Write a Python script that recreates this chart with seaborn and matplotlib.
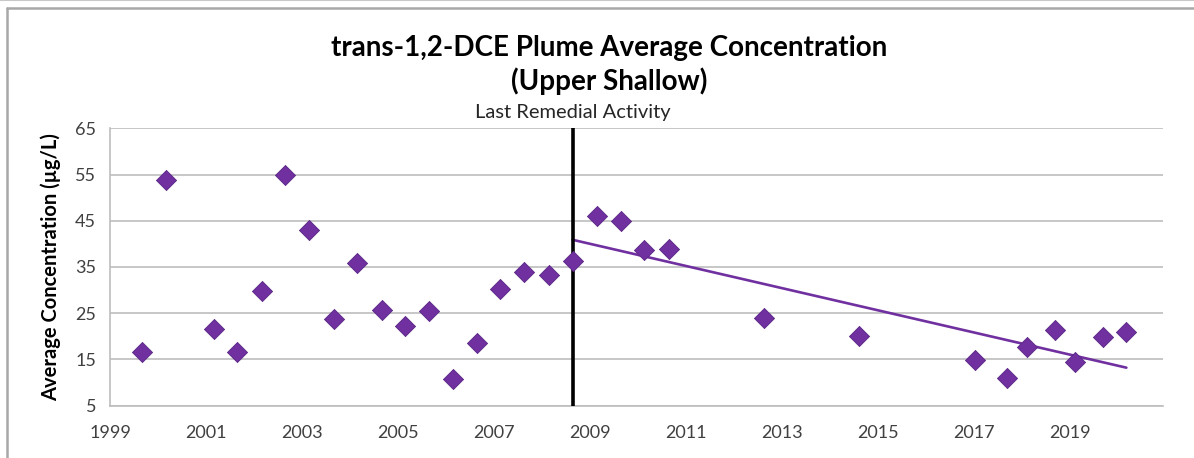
import pandas as pd
import matplotlib
matplotlib.use("Agg")
import matplotlib.pyplot as plt
from matplotlib.lines import Line2D
import seaborn as sns

# sampling dates (decimal years) and average concentration (ug/L)
years = [1999.67, 2000.16, 2001.17, 2001.65, 2002.16, 2002.65, 2003.15, 2003.67,
         2004.15, 2004.66, 2005.15, 2005.65, 2006.14, 2006.64, 2007.13, 2007.63,
         2008.15, 2008.64, 2009.14, 2009.64, 2010.13, 2010.64, 2012.63, 2014.61,
         2017.02, 2017.69, 2018.10, 2018.69, 2019.10, 2019.69, 2020.18]
conc = [16.7, 53.8, 21.5, 16.7, 29.7, 54.8, 43.0, 23.8,
        35.9, 25.6, 22.2, 25.4, 10.7, 18.5, 30.2, 33.9,
        33.2, 36.2, 46.0, 44.9, 38.7, 38.9, 24.0, 20.1,
        14.8, 10.9, 17.8, 21.3, 14.4, 19.9, 20.9]

remedial_year = 2008.64
x_ticks = [1999, 2001, 2003, 2005, 2007, 2009, 2011, 2013, 2015, 2017, 2019]
y_ticks = [5, 15, 25, 35, 45, 55, 65]

title = "trans-1,2-DCE Plume Average Concentration\n(Upper Shallow)"
ylabel = "Average Concentration (µg/L)"
event_label = "Last Remedial Activity"

df = pd.DataFrame({"year": years, "conc": conc})
post = df[df["year"] >= remedial_year]

sns.set_style("white")
plt.rcParams["font.family"] = ["Lato", "DejaVu Sans"]

purple = "#7030A0"
grid_c = "#BDBDBD"
text_c = "#404040"

fig = plt.figure(figsize=(11.94, 4.58), dpi=100)
ax = fig.add_axes([0.0921, 0.1142, 0.9743 - 0.0921, 0.7199 - 0.1142])

ax.yaxis.grid(True, color=grid_c, linewidth=1.2)
ax.set_axisbelow(True)

# linear trend after the last remedial activity
sns.regplot(data=post, x="year", y="conc", ax=ax, scatter=False, ci=None,
            truncate=True, color=purple, line_kws={"linewidth": 1.9, "zorder": 3})

ax.axvline(remedial_year, color="black", linewidth=2.6, zorder=4)

sns.scatterplot(data=df, x="year", y="conc", ax=ax, marker="D", s=105,
                color=purple, edgecolor="#5a2785", linewidth=0.6, zorder=5)

ax.set_xlim(1999, 2020.95)
ax.set_ylim(5, 65)
ax.set_xticks(x_ticks)
ax.set_yticks(y_ticks)
ax.tick_params(axis="both", which="major", labelsize=13, colors=grid_c,
               labelcolor=text_c, length=6, width=1.2, direction="out")
ax.tick_params(axis="x", pad=8)
ax.tick_params(axis="y", pad=4)

for side in ["top", "right"]:
    ax.spines[side].set_visible(False)
for side in ["left", "bottom"]:
    ax.spines[side].set_color(grid_c)
    ax.spines[side].set_linewidth(1.2)

ax.set_xlabel("")
ax.set_ylabel(ylabel, fontsize=14.5, fontweight="bold", color="black", labelpad=10)

fig.text(0.510, 0.858, title, ha="center", va="center", fontsize=20,
         fontweight="bold", color="black", linespacing=1.25)
ax.text(remedial_year, 68.5, event_label, ha="center", va="center",
        fontsize=14.5, color="#262626")

# chart frame
fig.add_artist(Line2D([0, 1], [0.999, 0.999], transform=fig.transFigure, color="#C8C8C8", linewidth=1.5))
fig.add_artist(Line2D([0.0055, 1], [0.982, 0.982], transform=fig.transFigure, color="#A8A8A8", linewidth=1.8))
fig.add_artist(Line2D([0.0055, 0.0055], [0, 0.982], transform=fig.transFigure, color="#A8A8A8", linewidth=1.8))

fig.savefig("out.png", dpi=100)
